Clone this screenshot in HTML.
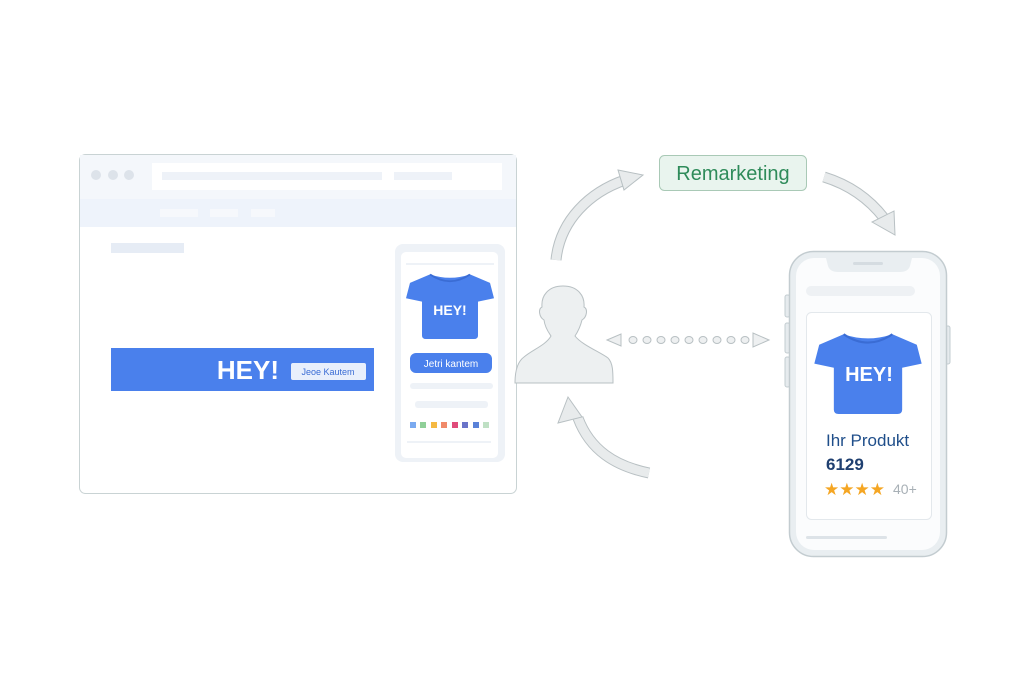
<!DOCTYPE html>
<html><head><meta charset="utf-8"><style>
html,body{margin:0;padding:0;background:#fff;}
svg{display:block;font-family:"Liberation Sans",sans-serif;}
</style></head><body>
<svg width="1024" height="683" viewBox="0 0 1024 683">
<defs>
<g id="shirt">
<path d="M-20,-36 Q0,-28 20,-36 L40,-26 L44,-8 L28,-4 L28,36 Q28,40 24,40 L-24,40 Q-28,40 -28,36 L-28,-4 L-44,-8 L-40,-26 Z" fill="#4a80ec"/>
<path d="M-20,-36 Q0,-20 20,-36" fill="none" stroke="#3a6cd4" stroke-width="2"/>
</g>
</defs>
<!-- browser -->
<rect x="79.5" y="154.5" width="437" height="339" rx="6" fill="#fff" stroke="#c9d3d4"/>
<rect x="80" y="155" width="436" height="44" fill="#f4f7fb"/>
<circle cx="96" cy="175" r="5" fill="#dde3ea"/><circle cx="113" cy="175" r="5" fill="#dde3ea"/><circle cx="129" cy="175" r="5" fill="#dde3ea"/>
<rect x="152" y="163" width="350" height="27" fill="#fff"/>
<rect x="162" y="172" width="220" height="8" fill="#eef2f8"/>
<rect x="394" y="172" width="58" height="8" fill="#eef2f8"/>
<rect x="80" y="199" width="436" height="28" fill="#eef3fb"/>
<rect x="160" y="209" width="38" height="8" fill="#f6f8fc"/><rect x="210" y="209" width="28" height="8" fill="#f6f8fc"/><rect x="251" y="209" width="24" height="8" fill="#f6f8fc"/>
<rect x="111" y="243" width="73" height="10" fill="#e6ecf5"/>
<rect x="111" y="348" width="263" height="43" fill="#4a80ec"/>
<text x="279" y="379" text-anchor="end" font-size="26" font-weight="bold" fill="#fff">HEY!</text>
<rect x="291" y="363" width="75" height="17" rx="2" fill="#e8effc"/>
<text x="328" y="375" text-anchor="middle" font-size="9" fill="#3a6cd4">Jeoe Kautem</text>
<!-- card -->
<rect x="395" y="244" width="110" height="218" rx="8" fill="#eef2f7"/>
<rect x="401" y="252" width="97" height="206" rx="5" fill="#fff"/>
<rect x="406" y="263" width="88" height="2" fill="#eef2f7"/>
<g transform="translate(450,305) scale(1.0,0.85)"><use href="#shirt"/></g>
<text x="450" y="315" text-anchor="middle" font-size="14" font-weight="bold" fill="#fff">HEY!</text>
<rect x="410" y="353" width="82" height="20" rx="6" fill="#4a80ec"/>
<text x="451" y="367" text-anchor="middle" font-size="10" fill="#fff">Jetri kantem</text>
<rect x="410" y="383" width="83" height="6" rx="3" fill="#eef2f7"/>
<rect x="415" y="401" width="73" height="7" rx="3" fill="#eef2f7"/>
<g>
<rect x="410" y="422" width="6" height="6" fill="#7aaaf0"/><rect x="420" y="422" width="6" height="6" fill="#8fcf98"/><rect x="431" y="422" width="6" height="6" fill="#f5b942"/><rect x="441" y="422" width="6" height="6" fill="#f08a6a"/><rect x="452" y="422" width="6" height="6" fill="#e04b7a"/><rect x="462" y="422" width="6" height="6" fill="#6a74c9"/><rect x="473" y="422" width="6" height="6" fill="#5a82d8"/><rect x="483" y="422" width="6" height="6" fill="#bfe0c4"/>
</g>
<rect x="407" y="441" width="84" height="2" fill="#eef2f7"/>
<!-- person -->
<path d="M563,286 C578,286 585,296 584,307 C588,309 587,317 582,320 C580,328 577,333 575,336 C582,345 600,352 608,358 C613,363 613,372 613,383 L515,383 C515,372 517,362 524,357 C532,350 546,345 551,336 C549,333 545,328 544,320 C539,317 538,309 542,307 C541,296 548,286 563,286 Z" fill="#edf0f1" stroke="#b8c0c3" stroke-width="1"/>
<!-- curved arrows -->
<g fill="none" stroke-linecap="butt">
<path d="M556,260 C560,220 590,192 625,180" stroke="#b8c0c3" stroke-width="11"/>
<path d="M556,260 C560,220 590,192 625,180" stroke="#e8ebec" stroke-width="9"/>
<path d="M824,177 C850,185 870,200 884,218" stroke="#b8c0c3" stroke-width="11"/>
<path d="M824,177 C850,185 870,200 884,218" stroke="#e8ebec" stroke-width="9"/>
<path d="M649,473 C615,466 590,450 578,418" stroke="#b8c0c3" stroke-width="11"/>
<path d="M649,473 C615,466 590,450 578,418" stroke="#e8ebec" stroke-width="9"/>
</g>
<polygon points="618,170 643,175 624,190" fill="#e8ebec" stroke="#b8c0c3"/>
<polygon points="872,222 895,235 894,211" fill="#e8ebec" stroke="#b8c0c3"/>
<polygon points="568,397 558,423 582,417" fill="#e8ebec" stroke="#b8c0c3"/>
<!-- dotted -->
<polygon points="607,340 621,334 621,346" fill="#eef0f1" stroke="#b8c0c3"/>
<polygon points="769,340 753,333 753,347" fill="#eef0f1" stroke="#b8c0c3"/>
<g fill="#eef0f1" stroke="#b8c0c3">
<ellipse cx="633" cy="340" rx="4" ry="3.5"/><ellipse cx="647" cy="340" rx="4" ry="3.5"/><ellipse cx="661" cy="340" rx="4" ry="3.5"/><ellipse cx="675" cy="340" rx="4" ry="3.5"/><ellipse cx="689" cy="340" rx="4" ry="3.5"/><ellipse cx="703" cy="340" rx="4" ry="3.5"/><ellipse cx="717" cy="340" rx="4" ry="3.5"/><ellipse cx="731" cy="340" rx="4" ry="3.5"/><ellipse cx="745" cy="340" rx="4" ry="3.5"/>
</g>
<!-- remarketing -->
<rect x="659.5" y="155.5" width="147" height="35" rx="5" fill="#e9f4ee" stroke="#a9c9b6"/>
<text x="733" y="180" text-anchor="middle" font-size="20" fill="#2e8b5a">Remarketing</text>
<!-- phone -->
<rect x="785" y="295" width="5" height="22" rx="2" fill="#e6ebee" stroke="#c3ccd0"/>
<rect x="785" y="323" width="5" height="30" rx="2" fill="#e6ebee" stroke="#c3ccd0"/>
<rect x="785" y="357" width="5" height="30" rx="2" fill="#e6ebee" stroke="#c3ccd0"/>
<rect x="945" y="326" width="5" height="38" rx="2" fill="#e6ebee" stroke="#c3ccd0"/>
<rect x="789.5" y="251.5" width="157" height="305" rx="24" fill="#e9eef1" stroke="#c3ccd0" stroke-width="1.5"/>
<rect x="796" y="258" width="144" height="292" rx="18" fill="#fbfcfd"/>
<path d="M826,258 L912,258 L910,266 Q908,272 900,272 L838,272 Q830,272 828,266 Z" fill="#e9eef1"/>
<rect x="853" y="262" width="30" height="3" rx="1.5" fill="#d5dce1"/>
<rect x="806" y="286" width="109" height="10" rx="5" fill="#eef1f4"/>
<rect x="806.5" y="312.5" width="125" height="207" rx="5" fill="#fff" stroke="#e3e8ec"/>
<g transform="translate(868,372) scale(1.22,1.05)"><use href="#shirt"/></g>
<text x="869" y="381" text-anchor="middle" font-size="20" font-weight="bold" fill="#fff">HEY!</text>
<text x="826" y="446" font-size="17" fill="#1f4e8a">Ihr Produkt</text>
<text x="826" y="470" font-size="17" font-weight="bold" fill="#1f3f70">6129</text>
<text x="824" y="495" font-size="17" fill="#f5a623">★★★★</text>
<text x="893" y="494" font-size="14" fill="#a8b0b6">40+</text>
<rect x="806" y="536" width="81" height="3" rx="1.5" fill="#dde3e8"/>
</svg>
</body></html>
